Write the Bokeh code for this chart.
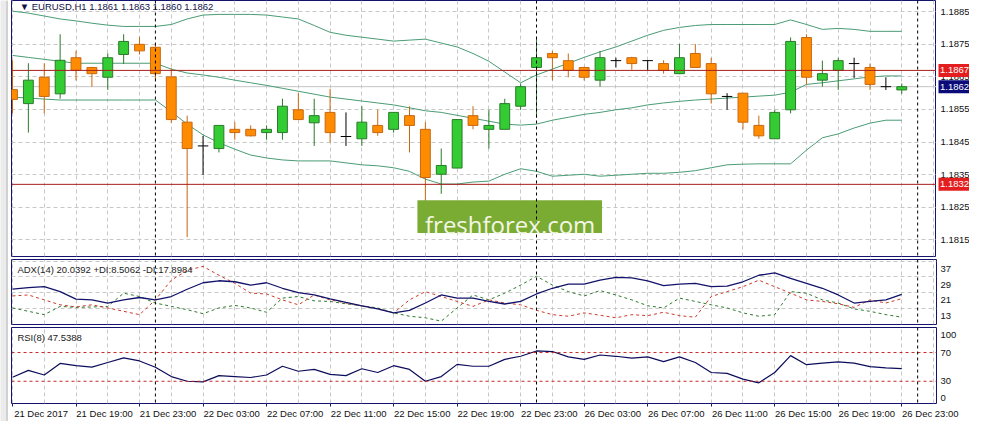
from bokeh.plotting import figure
from bokeh.layouts import column, row
from bokeh.models import Range1d, FixedTicker, Span, Label
from bokeh.core.properties import value
from bokeh.embed import file_html
from bokeh.resources import INLINE

# ---------------- data (EURUSD H1, 21 Dec 15:00 .. 26 Dec 23:00) ----------------
open_ = [1.18611, 1.18568, 1.18649, 1.18598, 1.18709, 1.18679, 1.18649, 1.18719, 1.18750, 1.18741,
         1.18650, 1.18511, 1.18438, 1.18430, 1.18489, 1.18489, 1.18479, 1.18479, 1.18549, 1.18509,
         1.18541, 1.18467, 1.18460, 1.18501, 1.18489, 1.18531, 1.18489, 1.18351, 1.18370, 1.18531,
         1.18489, 1.18489, 1.18560, 1.18679, 1.18722, 1.18700, 1.18679, 1.18640, 1.18700, 1.18709,
         1.18700, 1.18691, 1.18660, 1.18722, 1.18691, 1.18590, 1.18600, 1.18501, 1.18460, 1.18549,
         1.18771, 1.18640, 1.18670, 1.18691, 1.18679, 1.18620, 1.18610]
high = [1.18701, 1.18692, 1.18692, 1.18781, 1.18730, 1.18681, 1.18722, 1.18781, 1.18773, 1.18751,
        1.18677, 1.18531, 1.18469, 1.18501, 1.18511, 1.18501, 1.18501, 1.18583, 1.18600, 1.18583,
        1.18613, 1.18541, 1.18560, 1.18549, 1.18541, 1.18560, 1.18511, 1.18430, 1.18519, 1.18560,
        1.18549, 1.18583, 1.18630, 1.18773, 1.18730, 1.18722, 1.18681, 1.18730, 1.18709, 1.18712,
        1.18700, 1.18701, 1.18751, 1.18751, 1.18709, 1.18600, 1.18600, 1.18531, 1.18549, 1.18771,
        1.18781, 1.18700, 1.18709, 1.18709, 1.18691, 1.18649, 1.18630]
low = [1.18538, 1.18479, 1.18538, 1.18583, 1.18639, 1.18620, 1.18610, 1.18690, 1.18719, 1.18642,
       1.18509, 1.18158, 1.18349, 1.18418, 1.18457, 1.18467, 1.18457, 1.18457, 1.18519, 1.18438,
       1.18449, 1.18438, 1.18438, 1.18469, 1.18479, 1.18418, 1.18262, 1.18291, 1.18370, 1.18489,
       1.18430, 1.18489, 1.18549, 1.18524, 1.18639, 1.18649, 1.18639, 1.18620, 1.18679, 1.18672,
       1.18670, 1.18660, 1.18660, 1.18679, 1.18568, 1.18549, 1.18489, 1.18460, 1.18460, 1.18538,
       1.18627, 1.18620, 1.18610, 1.18647, 1.18610, 1.18610, 1.18598]
close = [1.18581, 1.18640, 1.18590, 1.18701, 1.18670, 1.18660, 1.18709, 1.18759, 1.18730, 1.18660,
         1.18519, 1.18430, 1.18438, 1.18501, 1.18479, 1.18469, 1.18489, 1.18560, 1.18519, 1.18531,
         1.18479, 1.18467, 1.18511, 1.18479, 1.18541, 1.18501, 1.18341, 1.18378, 1.18519, 1.18501,
         1.18501, 1.18568, 1.18620, 1.18709, 1.18709, 1.18670, 1.18649, 1.18709, 1.18700, 1.18691,
         1.18700, 1.18670, 1.18709, 1.18679, 1.18598, 1.18590, 1.18511, 1.18469, 1.18541, 1.18759,
         1.18649, 1.18660, 1.18700, 1.18691, 1.18627, 1.18620, 1.18620]

bb_upper = [1.18852, 1.18846, 1.18837, 1.18828, 1.18822, 1.18815, 1.18809, 1.18805, 1.18805, 1.18805,
            1.18811, 1.18828, 1.18840, 1.18842, 1.18842, 1.18842, 1.18840, 1.18834, 1.18828, 1.18808,
            1.18787, 1.18778, 1.18772, 1.18766, 1.18760, 1.18763, 1.18766, 1.18754, 1.18742, 1.18722,
            1.18698, 1.18665, 1.18632, 1.18656, 1.18674, 1.18692, 1.18710, 1.18727, 1.18742, 1.18760,
            1.18778, 1.18793, 1.18802, 1.18808, 1.18811, 1.18811, 1.18811, 1.18811, 1.18811, 1.18825,
            1.18811, 1.18796, 1.18799, 1.18796, 1.18790, 1.18790, 1.18790]
bb_mid = [1.18716, 1.18710, 1.18704, 1.18698, 1.18692, 1.18692, 1.18692, 1.18692, 1.18692, 1.18692,
          1.18674, 1.18662, 1.18656, 1.18649, 1.18640, 1.18632, 1.18624, 1.18615, 1.18606, 1.18597,
          1.18588, 1.18582, 1.18576, 1.18570, 1.18564, 1.18555, 1.18546, 1.18541, 1.18532, 1.18523,
          1.18514, 1.18505, 1.18502, 1.18505, 1.18517, 1.18526, 1.18535, 1.18541, 1.18549, 1.18555,
          1.18564, 1.18570, 1.18575, 1.18579, 1.18582, 1.18585, 1.18588, 1.18591, 1.18594, 1.18603,
          1.18627, 1.18632, 1.18638, 1.18644, 1.18650, 1.18653, 1.18653]
bb_lower = [1.18588, 1.18585, 1.18582, 1.18579, 1.18579, 1.18579, 1.18579, 1.18579, 1.18579, 1.18579,
            1.18543, 1.18505, 1.18472, 1.18448, 1.18428, 1.18410, 1.18401, 1.18395, 1.18392, 1.18392,
            1.18392, 1.18386, 1.18380, 1.18377, 1.18371, 1.18360, 1.18336, 1.18321, 1.18321, 1.18327,
            1.18330, 1.18351, 1.18368, 1.18360, 1.18345, 1.18348, 1.18351, 1.18345, 1.18348, 1.18351,
            1.18354, 1.18354, 1.18357, 1.18362, 1.18371, 1.18380, 1.18382, 1.18383, 1.18383, 1.18383,
            1.18425, 1.18463, 1.18475, 1.18493, 1.18508, 1.18517, 1.18517]

adx = [22.8, 23.5, 24.0, 21.5, 17.7, 17.3, 15.7, 17.3, 18.5, 17.3,
       19.0, 22.7, 26.0, 27.0, 26.5, 24.8, 26.0, 23.2, 21.0, 19.8,
       17.8, 16.0, 14.3, 12.7, 10.7, 12.0, 15.7, 19.8, 18.2, 18.2,
       16.5, 15.2, 16.5, 20.3, 23.2, 25.3, 25.3, 27.3, 28.7, 28.5,
       27.0, 24.5, 25.3, 25.7, 24.0, 24.3, 26.5, 29.8, 31.0, 28.2,
       25.7, 23.2, 19.8, 15.7, 16.5, 17.3, 20.0392]
plus_di = [13.2, 11.5, 9.8, 14.0, 13.5, 13.7, 14.0, 20.7, 19.0, 15.7,
           14.0, 12.3, 10.3, 13.2, 14.5, 13.2, 11.0, 18.2, 19.0, 16.8,
           16.5, 15.3, 14.3, 13.2, 10.7, 9.0, 8.2, 6.5, 13.2, 19.8,
           17.3, 20.7, 24.8, 29.3, 24.8, 21.5, 19.3, 22.0, 19.8, 17.3,
           14.3, 13.2, 18.2, 16.5, 14.8, 13.2, 10.7, 9.0, 9.8, 21.5,
           20.7, 17.3, 15.7, 12.7, 11.5, 9.8, 8.5062]
minus_di = [19.3, 19.8, 17.3, 14.8, 13.7, 14.8, 13.2, 11.5, 9.8, 17.3,
            27.3, 32.3, 34.3, 29.8, 25.7, 20.7, 20.3, 17.3, 14.8, 19.8,
            17.3, 15.7, 14.3, 12.7, 10.7, 17.3, 21.5, 19.0, 16.5, 14.0,
            17.3, 15.7, 14.8, 12.0, 9.8, 9.0, 10.7, 9.5, 8.2, 9.8,
            9.3, 11.0, 9.3, 8.5, 19.0, 21.5, 24.0, 27.3, 24.0, 20.7,
            17.3, 16.5, 15.3, 13.5, 17.3, 15.7, 17.8984]
rsi = [35.6, 45.2, 38.7, 54.8, 51.7, 49.6, 56.1, 62.6, 58.3, 49.6,
       36.5, 30.0, 29.1, 37.8, 36.5, 35.2, 38.7, 50.9, 43.9, 46.5,
       39.6, 37.8, 47.4, 42.2, 51.7, 46.5, 30.0, 36.5, 53.5, 50.9,
       50.9, 60.5, 64.8, 72.2, 71.4, 63.9, 60.5, 66.6, 64.8, 62.2,
       63.9, 57.4, 63.9, 56.1, 42.2, 40.9, 33.0, 27.8, 42.2, 65.7,
       53.1, 55.2, 57.0, 55.2, 50.4, 48.7, 47.5388]

time_tick_bars = [0, 4, 8, 12, 16, 20, 24, 28, 32, 36, 40, 44, 48, 52, 56]
time_tick_labels = ["21 Dec 2017", "21 Dec 19:00", "21 Dec 23:00", "22 Dec 03:00", "22 Dec 07:00",
                    "22 Dec 11:00", "22 Dec 15:00", "22 Dec 19:00", "22 Dec 23:00", "26 Dec 03:00",
                    "26 Dec 07:00", "26 Dec 11:00", "26 Dec 15:00", "26 Dec 19:00", "26 Dec 23:00"]
day_separator_bars = [9, 33, 57]
price_ticks = [1.1815, 1.1825, 1.1835, 1.1845, 1.1855, 1.1865, 1.1875, 1.1885]
price_levels = [1.1867, 1.1832]
adx_levels = [37, 29, 21, 13]
rsi_levels = [70, 30]
rsi_scale_labels = [100, 70, 30, 0]

# ---------------- styling ----------------
FONT = "Liberation Sans"
FS = "9.5px"
NAVY = "#14146e"
GRID = "#c8c8c8"
BULL_FILL, BULL_LINE = "#33cc33", "#2a7a2a"
BEAR_FILL, BEAR_LINE = "#ff8c00", "#c8680f"
BB_COLOR = "#4a9c74"
LEVEL_RED = "#a81e1e"
TXT = "#111111"

n = len(close)
idx = list(range(n))
xr = Range1d(-0.0625, 58.1875)
even_bars = list(range(0, 59, 2))
STRIP_W = 8
LEFT, SCALE_W, FULL_W = 3, 33, 961
TOTAL_H = 421

base = dict(toolbar_location=None, output_backend="svg",
            background_fill_color="white", border_fill_color="white")


def style_yaxis(p):
    ax = p.yaxis
    ax.major_tick_out = 0
    ax.major_tick_in = 0
    ax.minor_tick_out = 0
    ax.minor_tick_in = 0
    ax.axis_line_color = None
    ax.major_label_standoff = 4
    ax.major_label_text_font = FONT
    ax.major_label_text_font_size = FS
    ax.major_label_text_color = TXT


def add_separators(p):
    for s in day_separator_bars:
        p.add_layout(Span(location=s, dimension="height", line_color="black",
                          line_dash="3 3", line_width=1))


def style_xgrid(p):
    p.xgrid.ticker = FixedTicker(ticks=even_bars)
    p.xgrid.grid_line_color = GRID
    p.xgrid.grid_line_dash = "4 3"


# ---------------- window frame strip on the left ----------------
strip = figure(width=STRIP_W, height=TOTAL_H, x_range=Range1d(0, STRIP_W), y_range=Range1d(0, 1),
               x_axis_location=None, y_axis_location=None, outline_line_color=None,
               min_border_left=0, min_border_right=0, min_border_top=0, min_border_bottom=0,
               toolbar_location=None, output_backend="svg",
               background_fill_color="#ebebeb", border_fill_color="#ebebeb")
strip.xgrid.grid_line_color = None
strip.ygrid.grid_line_color = None
strip.add_layout(Span(location=STRIP_W - 1.5, dimension="height", line_color="#b8b8b8",
                      line_width=1))

# ---------------- main price panel ----------------
main_y = Range1d(1.180984, 1.188847)
p1 = figure(width=FULL_W - SCALE_W, height=258, x_range=xr, y_range=main_y,
            x_axis_location=None, y_axis_location=None,
            min_border_left=LEFT, min_border_right=0, min_border_top=0, min_border_bottom=2,
            outline_line_color=NAVY, outline_line_width=1, **base)
p1.ygrid.ticker = FixedTicker(ticks=price_ticks)
p1.ygrid.grid_line_color = GRID
p1.ygrid.grid_line_dash = "4 3"
style_xgrid(p1)

p1.add_layout(Span(location=close[-1], dimension="width", line_color="#c4c4c4",
                   line_width=1, level="underlay"))

for band in (bb_upper, bb_mid, bb_lower):
    p1.line(idx, band, line_color=BB_COLOR, line_width=1)

inc = [i for i in idx if close[i] > open_[i]]
dec = [i for i in idx if close[i] < open_[i]]
doj = [i for i in idx if close[i] == open_[i]]

p1.segment(x0=inc, y0=[high[i] for i in inc], x1=inc, y1=[low[i] for i in inc],
           line_color=BULL_LINE, line_width=1)
p1.segment(x0=dec, y0=[high[i] for i in dec], x1=dec, y1=[low[i] for i in dec],
           line_color=BEAR_LINE, line_width=1)
p1.vbar(x=inc, width=0.62, top=[close[i] for i in inc], bottom=[open_[i] for i in inc],
        fill_color=BULL_FILL, line_color=BULL_LINE, line_width=1)
p1.vbar(x=dec, width=0.62, top=[open_[i] for i in dec], bottom=[close[i] for i in dec],
        fill_color=BEAR_FILL, line_color=BEAR_LINE, line_width=1)
p1.segment(x0=doj, y0=[high[i] for i in doj], x1=doj, y1=[low[i] for i in doj],
           line_color="black", line_width=1)
p1.segment(x0=[i - 0.33 for i in doj], y0=[close[i] for i in doj],
           x1=[i + 0.33 for i in doj], y1=[close[i] for i in doj],
           line_color="black", line_width=1)

for lv in price_levels:
    p1.add_layout(Span(location=lv, dimension="width", line_color=LEVEL_RED, line_width=1))
add_separators(p1)

# watermark
p1.quad(left=25.5, right=37.125, bottom=1.181705, top=1.182714,
        fill_color="#7aab33", line_color=None)
p1.add_layout(Label(x=31.34, y=1.181963, text="freshforex.com", text_font="Open Sans",
                    text_font_size="24px", text_color="#f3f6e6", text_align="center",
                    text_baseline="alphabetic"))

title_main = "\u25bc EURUSD,H1  %.4f %.4f %.4f %.4f" % (open_[-1], high[-1], low[-1], close[-1])
p1.add_layout(Label(x=0.45, y=main_y.end, text=title_main, text_font=FONT, text_font_size=FS,
                    text_color="#10104a", text_align="left", text_baseline="top"))

# price scale strip (tick labels + price tags)
s1 = figure(width=SCALE_W, height=258, x_range=Range1d(0, SCALE_W), y_range=main_y,
            x_axis_location=None, y_axis_location=None,
            min_border_left=0, min_border_right=0, min_border_top=0, min_border_bottom=2,
            outline_line_color=None, **base)
s1.xgrid.grid_line_color = None
s1.ygrid.grid_line_color = None
s1.text(x=[4] * len(price_ticks), y=price_ticks, text=["%.4f" % t for t in price_ticks],
        text_font=value(FONT), text_font_size=value(FS), text_color=TXT,
        text_align="left", text_baseline="middle")
tag_prices = price_levels + [close[-1]]
tag_colors = ["#e41e1e"] * len(price_levels) + ["#0a0a78"]
s1.rect(x=[(2 + SCALE_W) / 2] * len(tag_prices), y=tag_prices, width=SCALE_W - 2, height=13,
        height_units="screen", fill_color=tag_colors, line_color=None)
s1.text(x=[3.5] * len(tag_prices), y=tag_prices, text=["%.4f" % t for t in tag_prices],
        text_font=value(FONT), text_font_size=value(FS), text_color="white",
        text_align="left", text_baseline="middle")

# ---------------- ADX panel ----------------
p2 = figure(width=FULL_W, height=68, x_range=xr, y_range=Range1d(4.8, 37.8),
            x_axis_location=None, y_axis_location="right",
            min_border_left=LEFT, min_border_right=SCALE_W, min_border_top=1, min_border_bottom=2,
            outline_line_color=NAVY, outline_line_width=1, **base)
style_yaxis(p2)
adx_label_pos = [lv - 4.0 for lv in adx_levels]
p2.yaxis.ticker = FixedTicker(ticks=adx_label_pos)
p2.yaxis.major_label_overrides = {pos: str(lv) for pos, lv in zip(adx_label_pos, adx_levels)}
p2.ygrid.ticker = FixedTicker(ticks=adx_levels)
p2.ygrid.grid_line_color = GRID
p2.ygrid.grid_line_dash = "4 3"
style_xgrid(p2)

p2.line(idx, plus_di, line_color="#2e7a2e", line_width=1, line_dash="3 3")
p2.line(idx, minus_di, line_color="#cc3a2a", line_width=1, line_dash="3 3")
p2.line(idx, adx, line_color="#12126a", line_width=1.3)
add_separators(p2)
title_adx = "ADX(14) %.4f +DI:%.4f -DI:%.4f" % (adx[-1], plus_di[-1], minus_di[-1])
p2.add_layout(Label(x=0.31, y=32.6, text=title_adx, text_font=FONT, text_font_size=FS,
                    text_color="#222222", text_align="left", text_baseline="middle"))

# ---------------- RSI panel ----------------
p3 = figure(width=FULL_W, height=95, x_range=xr, y_range=Range1d(-1.0, 104.9),
            x_axis_location="below", y_axis_location="right",
            min_border_left=LEFT, min_border_right=SCALE_W, min_border_top=1, min_border_bottom=15,
            outline_line_color=NAVY, outline_line_width=1, **base)
style_yaxis(p3)
rsi_label_pos = [min(max(v, 6.0), 94.0) for v in rsi_scale_labels]
p3.yaxis.ticker = FixedTicker(ticks=rsi_label_pos)
p3.yaxis.major_label_overrides = {pos: str(v) for pos, v in zip(rsi_label_pos, rsi_scale_labels)}
p3.ygrid.grid_line_color = None
style_xgrid(p3)

label_pos = [b + 1.8 for b in time_tick_bars]
xa = p3.xaxis
xa.ticker = FixedTicker(ticks=label_pos, minor_ticks=time_tick_bars)
xa.major_label_overrides = {pos: lab for pos, lab in zip(label_pos, time_tick_labels)}
xa.major_tick_out = 0
xa.major_tick_in = 0
xa.minor_tick_out = 3
xa.minor_tick_in = 0
xa.minor_tick_line_color = NAVY
xa.axis_line_color = None
xa.major_label_standoff = 1
xa.major_label_text_font = FONT
xa.major_label_text_font_size = FS
xa.major_label_text_color = TXT

for lv in rsi_levels:
    p3.add_layout(Span(location=lv, dimension="width", line_color="#c62828",
                       line_dash="3 3", line_width=1))
p3.line(idx, rsi, line_color="#0c0c5c", line_width=1.2)
add_separators(p3)
p3.add_layout(Label(x=0.31, y=90.6, text="RSI(8) %.4f" % rsi[-1], text_font=FONT,
                    text_font_size=FS, text_color="#222222", text_align="left",
                    text_baseline="middle"))

charts = column(row(p1, s1, spacing=0), p2, p3, spacing=0)
layout = row(strip, charts, spacing=0)
open("out.html", "w").write(file_html(layout, INLINE))
